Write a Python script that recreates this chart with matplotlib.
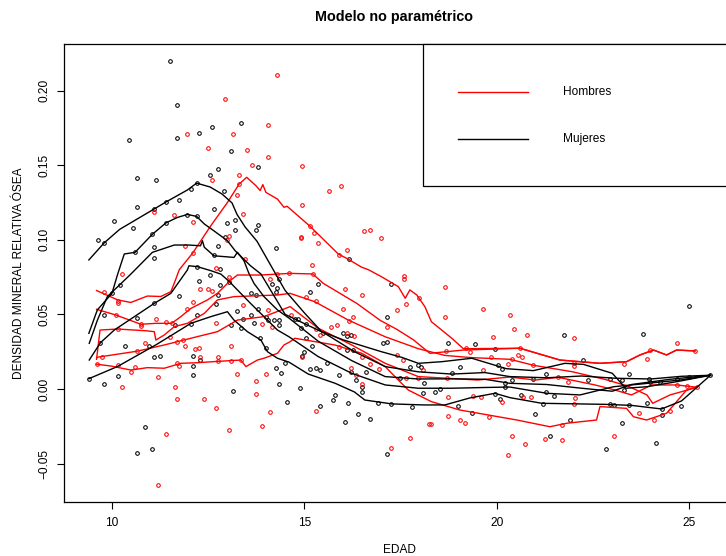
import matplotlib
matplotlib.use("Agg")
import matplotlib.pyplot as plt
from matplotlib.patches import Rectangle

plt.rcParams['font.family'] = ['Liberation Sans', 'DejaVu Sans']

# ---------------- data: scatter points ----------------
muj_edad = [11.50, 11.70, 10.45, 11.70, 12.25, 12.60, 13.35, 13.10, 13.80, 12.75, 12.55, 10.65, 11.15,
            12.20, 12.05, 12.90, 11.75, 11.40, 10.65, 11.10, 12.65, 10.05, 10.55, 11.40, 11.96, 12.20,
            13.00, 13.20, 13.20, 13.80, 13.75, 12.95, 9.64, 9.80, 11.05, 11.10, 10.60, 12.75, 12.65,
            11.10, 14.25, 12.20, 12.80,
            10.20, 10.00, 9.80, 12.25, 12.55, 12.75, 12.80, 13.05, 11.75, 11.10, 10.65, 9.70, 10.35,
            10.95, 11.10, 11.26, 11.65, 12.05, 12.20, 12.70, 13.25, 13.40, 13.10, 13.35, 13.60, 13.70,
            13.80, 13.60, 13.75, 14.00, 14.05, 14.20, 14.15, 14.25, 14.30, 14.35, 14.35, 14.35, 13.85,
            14.00, 12.10, 12.30, 12.10, 12.10, 10.15, 9.80, 9.40, 14.25, 14.40, 14.35, 14.50, 14.55,
            13.15, 10.85, 11.05, 10.65,
            16.15,
            15.35, 15.15, 17.24, 17.15, 17.15, 17.05, 14.75, 14.84, 15.04, 14.90, 15.04, 15.20, 14.99,
            14.95, 15.14, 15.29, 15.40, 15.49, 16.00, 16.20, 16.10, 16.10, 16.25, 15.59, 15.90, 16.20,
            16.59, 16.34, 16.50, 16.50, 15.80, 15.74, 16.14, 15.40, 14.89, 16.40, 16.70, 16.05, 17.15,
            16.90, 17.24, 17.49, 17.80, 18.09, 18.39, 18.52, 19.00, 17.74, 17.94, 18.04, 18.10, 18.84,
            19.04, 19.44, 19.94, 20.04, 20.14, 20.20, 20.21, 19.94, 20.09, 18.74, 19.35,
            24.99, 21.75, 23.80, 22.25, 23.44, 21.29, 20.95, 22.38, 22.95, 23.24, 23.95, 24.25, 23.99,
            24.69, 24.99, 25.55, 23.30, 20.40, 20.64, 21.49, 21.29, 21.19, 22.95, 23.04, 23.43, 23.89,
            24.30, 24.78, 24.30, 21.00, 21.89, 23.24, 21.39, 22.84, 24.14]
muj_dmo = [0.2200, 0.1906, 0.1667, 0.1684, 0.1714, 0.1756, 0.1780, 0.1593, 0.1488, 0.1472, 0.1436, 0.1414, 0.1399,
           0.1379, 0.1343, 0.1327, 0.1265, 0.1255, 0.1218, 0.1204, 0.1204, 0.1126, 0.1079, 0.1113, 0.1164, 0.1157,
           0.1115, 0.1133, 0.1066, 0.1097, 0.1064, 0.1017, 0.0999, 0.0977, 0.1037, 0.0950, 0.0916, 0.0961, 0.0898,
           0.0876, 0.0945, 0.0820, 0.0802,
           0.0697, 0.0641, 0.0496, 0.0724, 0.0764, 0.0630, 0.0697, 0.0719, 0.0621, 0.0574, 0.0478, 0.0310, 0.0286,
           0.0286, 0.0212, 0.0221, 0.0429, 0.0434, 0.0496, 0.0568, 0.0525, 0.0471, 0.0427, 0.0407, 0.0496, 0.0440,
           0.0536, 0.0646, 0.0630, 0.0483, 0.0460, 0.0462, 0.0702, 0.0650, 0.0679, 0.0737, 0.0462, 0.0427, 0.0340,
           0.0273, 0.0221, 0.0194, 0.0156, 0.0094, 0.0089, 0.0036, 0.0069, 0.0143, 0.0105, 0.0034, 0.0176, -0.0087,
           -0.0011, -0.0257, -0.0400, -0.0431,
           0.0869,
           0.0704, 0.0648, 0.0704, 0.0481, 0.0317, 0.0306, 0.0471, 0.0471, 0.0434, 0.0407, 0.0340, 0.0286, 0.0248,
           0.0221, 0.0132, 0.0143, 0.0130, 0.0373, 0.0373, 0.0362, 0.0355, 0.0261, 0.0261, 0.0172, 0.0092, 0.0116,
           0.0114, 0.0060, 0.0015, -0.0018, -0.0038, -0.0074, -0.0092, -0.0114, 0.0005, -0.0168, -0.0199, -0.0219, -0.0436,
           -0.0096, -0.0100, 0.0072, -0.0118, -0.0025, -0.0020, -0.0002, -0.0114, 0.0145, 0.0160, 0.0150, 0.0038, 0.0105,
           0.0150, 0.0301, 0.0266, 0.0159, 0.0132, 0.0038, 0.0010, -0.0034, -0.0065, 0.0310, -0.0163,
           0.0554, 0.0360, 0.0367, 0.0194, 0.0098, 0.0102, 0.0067, 0.0060, 0.0069, 0.0060, 0.0069, 0.0047, 0.0047,
           0.0067, 0.0082, 0.0092, -0.0007, 0.0060, -0.0038, -0.0049, -0.0022, -0.0099, -0.0103, -0.0107, -0.0107, -0.0096,
           -0.0134, -0.0116, -0.0172, -0.0168, -0.0206, -0.0230, -0.0317, -0.0402, -0.0360]

hom_edad = [14.30, 12.95, 14.05, 11.95, 13.15, 12.50, 13.50, 14.05, 13.65, 12.60, 13.30, 13.30, 13.25,
            11.10, 11.60, 13.40, 12.10, 13.05, 13.00, 11.90, 12.10, 13.45, 12.70, 10.25,
            9.80, 10.15, 10.15, 10.10, 10.75, 10.75, 11.15, 11.40, 11.55, 11.95, 12.10, 12.30, 12.50,
            12.60, 13.05, 12.70, 13.40, 14.05, 14.10, 13.90, 14.15, 14.30, 10.15, 10.65, 10.85, 11.50,
            11.70, 11.85, 11.90, 12.15, 12.25, 13.10, 12.30, 12.75, 12.75, 13.10, 13.35, 11.70, 11.75,
            9.75, 9.60, 10.15, 10.60, 10.50, 11.20, 13.25, 14.00, 13.75, 13.75, 10.25, 11.65, 11.70,
            12.40, 12.70, 14.10, 13.90, 13.05, 11.40, 11.20,
            14.95, 15.65, 15.94, 14.95, 15.15, 15.26, 14.90, 14.90, 15.35, 16.55, 16.70, 17.00, 16.10,
            15.90, 15.20,
            15.22, 14.60, 16.05, 16.50, 15.05, 15.30, 17.59, 17.58, 18.65, 17.64, 17.40, 17.99, 18.65,
            19.64, 20.34, 14.66, 16.00, 16.25, 16.15, 15.85, 15.70, 15.30, 15.40, 16.10, 16.30, 17.15,
            19.89, 18.69, 19.21, 19.29, 14.95, 15.89, 16.50, 16.20, 16.34, 16.95, 16.70, 17.40, 17.55,
            17.64, 17.94, 18.70, 18.09, 19.84, 20.29, 19.64, 19.39, 19.59, 20.14, 18.74, 16.50, 15.30,
            18.74, 19.04, 19.16, 19.79, 18.25, 18.29, 17.75, 17.24, 20.29,
            20.44, 20.79, 22.00, 24.69, 23.99, 25.14, 20.60, 20.55, 20.65, 20.39, 22.00, 22.00, 23.30,
            23.89, 20.95, 21.85, 21.60, 20.69, 20.90, 22.03, 22.00, 23.70, 24.09, 24.49, 24.68, 24.93,
            25.20, 20.39, 20.74, 21.24, 21.69, 23.04, 21.70]
hom_dmo = [0.2102, 0.1944, 0.1771, 0.1709, 0.1709, 0.1613, 0.1604, 0.1555, 0.1499, 0.1399, 0.1436, 0.1372, 0.1302,
           0.1186, 0.1163, 0.1171, 0.1117, 0.1027, 0.1001, 0.0958, 0.0912, 0.0870, 0.0811, 0.0771,
           0.0652, 0.0590, 0.0579, 0.0496, 0.0436, 0.0420, 0.0469, 0.0451, 0.0440, 0.0538, 0.0585, 0.0668, 0.0670,
           0.0657, 0.0753, 0.0440, 0.0561, 0.0530, 0.0739, 0.0434, 0.0414, 0.0771, 0.0402, 0.0253, 0.0306, 0.0351,
           0.0317, 0.0330, 0.0286, 0.0266, 0.0277, 0.0286, 0.0217, 0.0212, 0.0185, 0.0187, 0.0194, 0.0176, 0.0156,
           0.0212, 0.0166, 0.0160, 0.0145, 0.0116, 0.0083, 0.0098, 0.0098, 0.0056, -0.0036, 0.0015, 0.0011, -0.0065,
           -0.0067, -0.0125, -0.0152, -0.0250, -0.0273, -0.0300, -0.0645,
           0.1495, 0.1329, 0.1359, 0.1235, 0.1090, 0.1044, 0.1021, 0.1012, 0.0976, 0.1057, 0.1066, 0.1012, 0.0932,
           0.0900, 0.0833,
           0.0771, 0.0780, 0.0672, 0.0630, 0.0615, 0.0590, 0.0755, 0.0740, 0.0682, 0.0572, 0.0532, 0.0612, 0.0483,
           0.0536, 0.0498, 0.0494, 0.0538, 0.0485, 0.0458, 0.0427, 0.0414, 0.0404, 0.0360, 0.0373, 0.0355, 0.0416,
           0.0351, 0.0257, 0.0277, 0.0250, 0.0217, 0.0284, 0.0217, 0.0139, 0.0094, 0.0136, 0.0168, 0.0226, 0.0194,
           0.0072, 0.0072, 0.0072, 0.0127, 0.0217, 0.0166, 0.0127, -0.0045, -0.0054, -0.0089, -0.0054, 0.0031, -0.0145,
           -0.0179, -0.0208, -0.0226, -0.0185, -0.0237, -0.0237, -0.0326, -0.0398, -0.0445,
           0.0400, 0.0364, 0.0342, 0.0310, 0.0263, 0.0257, 0.0273, 0.0230, 0.0212, 0.0199, 0.0172, 0.0154, 0.0170,
           0.0203, 0.0159, 0.0045, 0.0078, -0.0051, -0.0051, -0.0060, -0.0100, -0.0159, -0.0208, -0.0145, 0.0027, 0.0020,
           0.0011, -0.0315, -0.0367, -0.0333, -0.0342, -0.0317, -0.0240]

# ---------------- data: non-parametric quantile curves ----------------
muj_curvas = [
    ([9.40, 9.80, 10.20, 11.40, 11.96, 12.20, 12.55, 12.86, 13.12, 13.25, 13.46, 13.77, 14.24, 14.50, 15.00,
      15.45, 16.00, 16.57, 17.00, 17.53, 17.96, 18.57, 19.35, 20.25, 20.95, 21.77, 22.25, 23.00, 23.35, 23.90,
      24.70, 25.55],
     [0.0865, 0.0980, 0.1070, 0.1253, 0.1334, 0.1380, 0.1354, 0.1307, 0.1247, 0.1170, 0.1086, 0.0990, 0.0777,
      0.0660, 0.0510, 0.0384, 0.0330, 0.0284, 0.0250, 0.0212, 0.0172, 0.0183, 0.0206, 0.0136, 0.0123, 0.0172,
      0.0165, 0.0105, 0.0005, 0.0015, 0.0050, 0.0092]),
    ([9.40, 9.62, 10.00, 10.15, 10.32, 10.60, 11.05, 11.40, 11.70, 11.96, 12.20, 12.40, 12.65, 13.00, 13.20,
      13.60, 13.87, 14.50, 15.53, 16.30, 17.10, 17.96, 18.83, 19.69, 20.34, 21.30, 22.20, 23.07, 24.00, 24.80,
      25.55],
     [0.0373, 0.0530, 0.0641, 0.0771, 0.0905, 0.0916, 0.1037, 0.1113, 0.1150, 0.1170, 0.1157, 0.1106, 0.1060,
      0.0994, 0.0927, 0.0826, 0.0771, 0.0500, 0.0373, 0.0250, 0.0150, 0.0115, 0.0100, 0.0110, 0.0083, 0.0075,
      0.0087, 0.0072, 0.0067, 0.0085, 0.0092]),
    ([9.41, 9.62, 9.88, 10.49, 11.05, 11.62, 12.00, 12.30, 12.35, 12.40, 12.65, 13.17, 13.26, 13.43, 13.55,
      13.69, 13.95, 14.30, 14.60, 15.36, 16.23, 17.10, 17.96, 18.83, 19.69, 20.34, 21.30, 22.20, 23.00, 23.50,
      24.50, 25.55],
     [0.0306, 0.0460, 0.0619, 0.0770, 0.0916, 0.0965, 0.0965, 0.0960, 0.0994, 0.0950, 0.0893, 0.0882, 0.0916,
      0.0860, 0.0780, 0.0708, 0.0619, 0.0530, 0.0475, 0.0320, 0.0190, 0.0083, 0.0067, 0.0068, 0.0065, 0.0038,
      0.0030, 0.0005, -0.0015, 0.0030, 0.0065, 0.0092]),
    ([9.41, 9.70, 10.06, 11.10, 11.53, 11.96, 12.00, 12.22, 12.57, 12.83, 13.05, 13.26, 13.60, 13.95, 14.30,
      14.60, 15.36, 16.23, 17.10, 17.96, 18.83, 19.69, 20.34, 21.30, 22.16, 23.03, 24.00, 24.76, 25.55],
     [0.0194, 0.0310, 0.0395, 0.0574, 0.0641, 0.0798, 0.0826, 0.0820, 0.0793, 0.0770, 0.0720, 0.0664, 0.0574,
      0.0485, 0.0395, 0.0350, 0.0217, 0.0105, 0.0027, 0.0005, 0.0005, 0.0010, 0.0013, -0.0029, -0.0040, 0.0015,
      0.0040, 0.0060, 0.0092]),
    ([9.40, 10.14, 11.15, 12.05, 12.57, 13.00, 13.17, 13.52, 13.87, 14.04, 14.30, 14.60, 15.10, 15.80, 16.30,
      16.57, 17.27, 18.09, 18.65, 19.30, 19.95, 20.34, 21.17, 22.81, 23.50, 24.28, 24.80, 25.55],
     [0.0069, 0.0150, 0.0297, 0.0440, 0.0485, 0.0518, 0.0462, 0.0384, 0.0328, 0.0250, 0.0206, 0.0180, 0.0100,
      0.0038, -0.0020, -0.0074, -0.0100, -0.0107, -0.0107, -0.0060, -0.0029, -0.0058, -0.0096, -0.0103, -0.0110,
      -0.0134, -0.0080, 0.0092]),
]

hom_curvas = [
    ([9.60, 10.15, 10.49, 10.92, 11.27, 11.53, 11.62, 11.75, 12.10, 12.57, 13.00, 13.30, 13.50, 13.74, 13.85,
      13.92, 14.00, 14.30, 14.47, 14.55, 15.15, 15.88, 16.15, 16.30, 16.49, 16.66, 17.00, 17.44, 17.62, 17.74,
      17.92, 18.13, 18.30, 18.83, 19.13, 20.60, 21.64, 22.68, 23.37, 23.72, 24.07, 24.41, 24.67, 25.15],
     [0.0660, 0.0597, 0.0580, 0.0623, 0.0620, 0.0652, 0.0710, 0.0800, 0.0912, 0.1095, 0.1250, 0.1372, 0.1419,
      0.1363, 0.1330, 0.1370, 0.1318, 0.1273, 0.1218, 0.1225, 0.1090, 0.0905, 0.0869, 0.0845, 0.0816, 0.0800,
      0.0753, 0.0686, 0.0608, 0.0664, 0.0630, 0.0552, 0.0451, 0.0340, 0.0270, 0.0273, 0.0194, 0.0172, 0.0183,
      0.0228, 0.0261, 0.0228, 0.0261, 0.0255]),
    ([9.60, 10.10, 10.75, 11.14, 11.55, 11.79, 12.05, 12.48, 12.74, 13.09, 13.26, 13.87, 14.63, 15.22, 15.49,
      16.36, 16.97, 17.40, 17.83, 18.26, 19.13, 20.60, 21.64, 22.68, 23.37, 23.72, 24.07, 24.41, 24.67, 25.15],
     [0.0534, 0.0496, 0.0434, 0.0440, 0.0440, 0.0485, 0.0540, 0.0597, 0.0641, 0.0730, 0.0764, 0.0764, 0.0775,
      0.0771, 0.0708, 0.0574, 0.0460, 0.0400, 0.0330, 0.0239, 0.0261, 0.0273, 0.0194, 0.0172, 0.0183, 0.0228,
      0.0261, 0.0228, 0.0261, 0.0255]),
    ([9.60, 9.69, 10.14, 10.90, 11.10, 11.14, 11.36, 11.62, 11.96, 12.40, 12.74, 13.17, 14.30, 14.63, 15.27,
      16.14, 17.10, 17.96, 18.65, 19.35, 20.34, 20.95, 21.95, 22.80, 23.40, 23.90, 24.05, 24.50, 25.20],
     [0.0199, 0.0395, 0.0402, 0.0390, 0.0384, 0.0328, 0.0362, 0.0418, 0.0440, 0.0507, 0.0597, 0.0619, 0.0630,
      0.0641, 0.0585, 0.0462, 0.0350, 0.0270, 0.0225, 0.0210, 0.0199, 0.0159, 0.0116, 0.0065, 0.0020, -0.0040,
      -0.0096, -0.0040, 0.0011]),
    ([9.60, 10.65, 11.36, 12.22, 12.74, 13.26, 13.95, 14.63, 15.36, 16.23, 17.10, 17.96, 18.83, 19.50, 20.34,
      21.00, 21.60, 22.55, 23.07, 23.50, 24.02, 24.68, 25.20],
     [0.0212, 0.0253, 0.0295, 0.0351, 0.0384, 0.0462, 0.0485, 0.0552, 0.0407, 0.0295, 0.0172, 0.0083, 0.0070,
      0.0060, 0.0080, 0.0060, 0.0078, 0.0027, -0.0007, -0.0040, 0.0027, 0.0027, 0.0011]),
    ([9.60, 9.97, 10.49, 10.92, 11.36, 11.79, 12.22, 12.74, 13.35, 13.48, 13.78, 13.95, 14.30, 14.47, 14.63,
      14.75, 15.79, 16.49, 17.10, 17.44, 17.70, 18.30, 19.04, 20.52, 21.38, 21.81, 22.59, 22.68, 23.37, 23.55,
      23.89, 24.41, 24.93, 25.19],
     [0.0166, 0.0154, 0.0127, 0.0143, 0.0139, 0.0172, 0.0176, 0.0185, 0.0194, 0.0150, 0.0194, 0.0206, 0.0239,
      0.0295, 0.0317, 0.0340, 0.0295, 0.0239, 0.0150, 0.0060, -0.0007, -0.0085, -0.0141, -0.0208, -0.0253,
      -0.0230, -0.0208, -0.0118, -0.0130, -0.0186, -0.0208, -0.0163, -0.0007, 0.0015]),
]

x_ticks = [10, 15, 20, 25]
y_ticks = [-0.05, 0.00, 0.05, 0.10, 0.15, 0.20]
legend_labels = ["Hombres", "Mujeres"]

ROJO = '#FF0000'
NEGRO = '#000000'

# ---------------- figure ----------------
W, H = 726, 556
fig = plt.figure(figsize=(W / 100, H / 100), dpi=100)
ax_l, ax_r, ax_t, ax_b = 64.0, 735.3, 43.8, 502.2
ax = fig.add_axes([ax_l / W, 1 - ax_b / H, (ax_r - ax_l) / W, (ax_b - ax_t) / H])

ax.plot(muj_edad, muj_dmo, linestyle='none', marker='o', ms=2.6, mfc='none', mec=NEGRO, mew=0.75)
ax.plot(hom_edad, hom_dmo, linestyle='none', marker='o', ms=2.6, mfc='none', mec=ROJO, mew=0.75)

for xs, ys in hom_curvas:
    ax.plot(xs, ys, color=ROJO, lw=1.0)
for xs, ys in muj_curvas:
    ax.plot(xs, ys, color=NEGRO, lw=1.0)

ax.set_xlim(8.754, 26.196)
ax.set_ylim(-0.0759, 0.2314)
ax.set_xticks(x_ticks)
ax.set_xticklabels([str(t) for t in x_ticks])
ax.set_yticks(y_ticks)
ax.set_yticklabels([f"{t:.2f}".replace('-', '\u2212') for t in y_ticks], rotation=90, va='center')
ax.tick_params(axis='both', direction='out', length=5, width=0.8, labelsize=8.6, colors='black')
ax.tick_params(axis='x', pad=6)
ax.tick_params(axis='y', pad=5)
for s in ax.spines.values():
    s.set_linewidth(0.9)

ax.set_xlabel("EDAD", fontsize=8.6)
ax.xaxis.set_label_coords(0.5, -0.092)
ax.set_ylabel("DENSIDAD MINERAL RELATIVA ÓSEA", fontsize=8.6)
ax.yaxis.set_label_coords(-0.058, 0.5)

fig.text(394 / W, 1 - 17 / H, "Modelo no paramétrico", ha='center', va='center',
         fontsize=10.4, fontweight='bold')

# legend (R style, top-right of plot region)
lx0 = (423 - ax_l) / (ax_r - ax_l)
ly0 = (ax_b - 185.7) / (ax_b - ax_t)
ax.add_patch(Rectangle((lx0, ly0), 1 - lx0, 1 - ly0, transform=ax.transAxes, facecolor='white',
                       edgecolor='black', lw=0.9, zorder=5, clip_on=False))
seg_x0 = (458 - ax_l) / (ax_r - ax_l)
seg_x1 = (528 - ax_l) / (ax_r - ax_l)
txt_x = (562.7 - ax_l) / (ax_r - ax_l)
for lab, col, ypx in zip(legend_labels, [ROJO, NEGRO], [91.7, 138.7]):
    yy = (ax_b - ypx) / (ax_b - ax_t)
    ax.plot([seg_x0, seg_x1], [yy, yy], color=col, lw=1.0, transform=ax.transAxes, zorder=6, clip_on=False)
    ax.text(txt_x, yy, lab, transform=ax.transAxes, ha='left', va='center', fontsize=8.6, zorder=6)

fig.savefig("out.png", dpi=100)
